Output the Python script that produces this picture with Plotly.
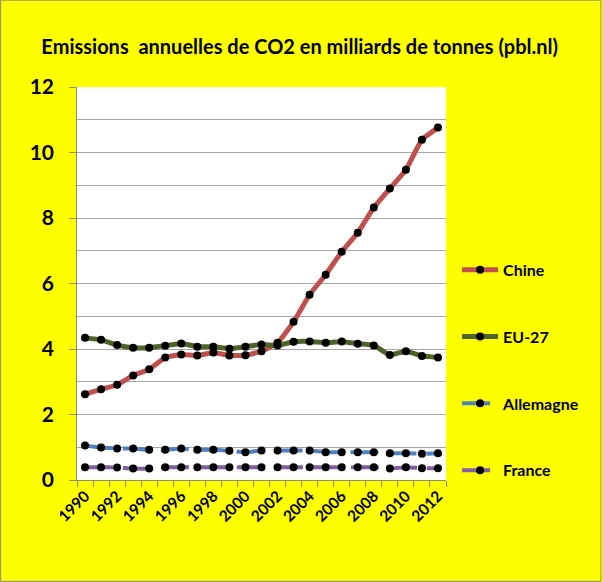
import plotly.graph_objects as go

# -- donnees (milliards de tonnes de CO2)
annees = list(range(1990, 2013))

chine = [2.62, 2.77, 2.91, 3.19, 3.38, 3.74, 3.83, 3.80, 3.89, 3.80, 3.81, 3.93,
         4.19, 4.83, 5.66, 6.27, 6.97, 7.55, 8.32, 8.90, 9.47, 10.39, 10.76]
eu27 = [4.34, 4.28, 4.12, 4.04, 4.04, 4.10, 4.17, 4.07, 4.07, 4.01, 4.07, 4.14,
        4.11, 4.22, 4.23, 4.19, 4.23, 4.16, 4.11, 3.82, 3.93, 3.79, 3.74]
allemagne = [1.05, 0.99, 0.96, 0.96, 0.92, 0.92, 0.96, 0.92, 0.92, 0.89, 0.85, 0.90,
             0.90, 0.90, 0.90, 0.85, 0.85, 0.85, 0.85, 0.82, 0.82, 0.80, 0.82]
france = [0.39, 0.39, 0.38, 0.35, 0.35, 0.39, 0.39, 0.39, 0.39, 0.39, 0.39, 0.39,
          0.39, 0.39, 0.39, 0.39, 0.39, 0.39, 0.39, 0.35, 0.39, 0.36, 0.36]

series = [
    ("Chine", chine, "#C0504D", 5, "solid"),
    ("EU-27", eu27, "#4F6228", 5, "solid"),
    ("Allemagne", allemagne, "#4F81BD", 4, "28px,10px"),
    ("France", france, "#7F5FA0", 4, "28px,10px"),
]

police = "Lato"

fig = go.Figure()
for i, (nom, valeurs, couleur, largeur, tirets) in enumerate(series):
    fig.add_trace(go.Scatter(
        x=annees, y=valeurs, name="<b>" + nom + "</b>", mode="lines+markers",
        legendgroup=str(i),
        line=dict(color=couleur, width=largeur, dash=tirets, shape="spline", smoothing=0.4),
        marker=dict(color="black", size=8),
    ))

fig.update_layout(
    width=603, height=582,
    paper_bgcolor="#FFFF00", plot_bgcolor="white",
    margin=dict(l=77, r=157, t=87, b=102),
    title=dict(text="<b>Emissions  annuelles de CO2 en milliards de tonnes (pbl.nl)</b>",
               x=0.497, xanchor="center", y=0.919, yanchor="middle",
               font=dict(family=police, size=20, color="black")),
    legend=dict(x=1.03, xanchor="left", y=0.578, yanchor="top",
                bgcolor="rgba(0,0,0,0)", tracegroupgap=43,
                traceorder="grouped", itemwidth=36,
                font=dict(family=police, size=16, color="black")),
    shapes=[dict(type="rect", xref="paper", yref="paper", x0=-0.207, x1=1.42,
                 y0=-0.258, y1=1.221, line=dict(color="#888888", width=1))],
)

fig.update_xaxes(
    range=[1989.5, 2012.5], tick0=1990, dtick=2, ticks="", tickangle=-45,
    showgrid=False, zeroline=False,
    showline=True, linecolor="#8C8C6E", linewidth=1,
    minor=dict(tick0=1989.5, dtick=1, ticks="outside", ticklen=6, tickcolor="#8C8C6E"),
    tickfont=dict(family=police, size=15.5, color="black"),
    tickprefix="<b>", ticksuffix="</b>",
)
fig.update_yaxes(
    range=[0, 12], dtick=2, ticks="outside", ticklen=7, tickcolor="#8C8C6E",
    showgrid=True, gridcolor="#A6A6A6", gridwidth=1, zeroline=False,
    showline=True, linecolor="#8C8C6E", linewidth=1,
    minor=dict(dtick=1, showgrid=True, gridcolor="#A6A6A6", ticks=""),
    tickfont=dict(family=police, size=21, color="black"),
    tickprefix="<b>", ticksuffix="</b>  ",
)

fig.write_html("out.html", config={"displayModeBar": False},
               post_script="document.body.style.margin='0';")
